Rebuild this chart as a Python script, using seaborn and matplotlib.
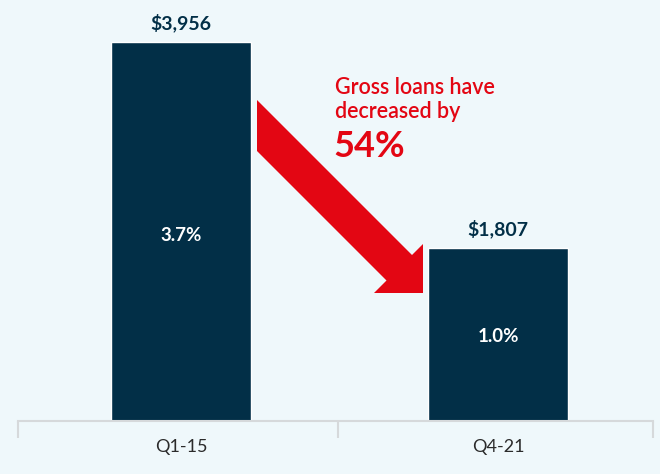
import matplotlib
matplotlib.use("Agg")
import matplotlib.pyplot as plt
import seaborn as sns
import pandas as pd
from matplotlib.patches import Polygon

categories = ["Q1-15", "Q4-21"]
gross_loans = [3956, 1807]
value_labels = ["$3,956", "$1,807"]
ratio_labels = ["3.7%", "1.0%"]
callout_lines = ["Gross loans have", "decreased by"]
callout_pct = "54%"

BG = "#eff8fb"
NAVY = "#022f47"
RED = "#e30613"

sns.set_theme(style="white")
plt.rcParams["font.family"] = ["Lato", "DejaVu Sans"]

df = pd.DataFrame({"period": categories, "loans": gross_loans})

W, H = 660, 474
fig = plt.figure(figsize=(W / 100, H / 100), dpi=100, facecolor=BG)
ax = fig.add_axes([18 / W, 1 - 421 / H, 635 / W, 421 / H])
ax.set_facecolor(BG)

sns.barplot(data=df, x="period", y="loans", color=NAVY, width=0.442,
            saturation=1, ax=ax)

ymax = 3956 * 421 / 379
ax.set_ylim(0, ymax)
ax.set_xlim(-0.514, 1.489)

for i, (v, lab, r) in enumerate(zip(gross_loans, value_labels, ratio_labels)):
    ax.text(i, v + ymax * 0.024, lab, ha="center", va="bottom", color=NAVY,
            fontsize=14, fontweight="bold")
    ax.text(i, v * 0.49, r, ha="center", va="center", color="white",
            fontsize=13.5, fontweight="bold")

for s in ["left", "right", "top"]:
    ax.spines[s].set_visible(False)
ax.spines["bottom"].set_color("#d6d9db")
ax.spines["bottom"].set_linewidth(1.5)
ax.set_yticks([])
ax.set_xlabel("")
ax.set_ylabel("")
ax.tick_params(axis="x", length=0, pad=13, labelsize=13, colors="#2b2b2b")
ax.set_xticks([-0.514, 0.495, 1.489], minor=True)
ax.tick_params(axis="x", which="minor", length=12, width=1.5, color="#d6d9db",
               direction="out", bottom=True)

# arrow (pixel coords, y from top)
pts = [(257, 100), (412, 255), (423, 244), (423, 293), (374, 293),
       (386.5, 280.5), (257, 151)]
poly = Polygon([(x / W, 1 - y / H) for x, y in pts], closed=True,
               facecolor=RED, edgecolor="none", transform=fig.transFigure)
fig.patches.append(poly)

fig.text(335 / W, 1 - 94 / H, callout_lines[0], color=RED, fontsize=15.5,
         fontweight="semibold", va="baseline", ha="left")
fig.text(335 / W, 1 - 118 / H, callout_lines[1], color=RED, fontsize=15.5,
         fontweight="semibold", va="baseline", ha="left")
fig.text(333 / W, 1 - 157 / H, callout_pct, color=RED, fontsize=26,
         fontweight="bold", va="baseline", ha="left")

fig.savefig("out.png", dpi=100, facecolor=BG)
